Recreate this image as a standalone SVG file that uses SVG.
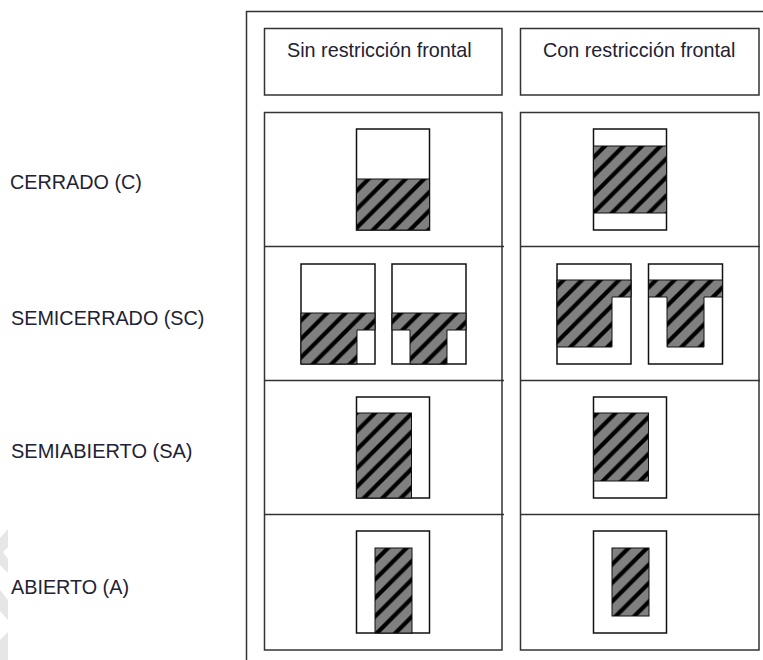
<svg xmlns="http://www.w3.org/2000/svg" width="763" height="660" viewBox="0 0 763 660">
<style>
.l{font-family:"Liberation Sans",Arial,sans-serif;font-size:19.8px;fill:#222233}
.b{fill:none;stroke:#333;stroke-width:1.5}
.o{fill:#fff;stroke:#111;stroke-width:1.5}
.h{fill:url(#hatch);stroke:#111;stroke-width:1}
</style>
<defs>
<pattern id="hatch" patternUnits="userSpaceOnUse" x="11" y="0" width="18.5" height="18.5">
<rect width="18.5" height="18.5" fill="#808080"/>
<path d="M-4.625 4.625L4.625-4.625M-4.625 23.125L23.125-4.625M13.875 23.125L23.125 13.875" stroke="#000" stroke-width="4.2" fill="none"/>
</pattern>
</defs>
<rect width="763" height="660" fill="#fff"/>
<g id="watermark" fill="#e6e6e6">
<polygon points="8,529 8,547 3,552 8,559 8,573 0,565 0,538"/>
<polygon points="0,590 8,600 8,620 0,611"/>
<polygon points="8,632 0,640 0,660 8,660"/>
</g>
<g id="frame">
<path class="b" d="M763 11.5H246.500V660"/>
</g>
<g id="header-1"><rect class="b" x="264.500" y="28.500" width="237.500" height="66.500"/><text class="l" x="287" y="57">Sin restricción frontal</text></g>
<g id="header-2"><rect class="b" x="520.500" y="28.500" width="238.500" height="66.500"/><text class="l" x="543" y="57">Con restricción frontal</text></g>
<g id="table">
<rect class="b" x="264.500" y="112.500" width="237.500" height="537.500"/>
<rect class="b" x="520.500" y="112.500" width="238.500" height="537.500"/>
<path class="b" d="M264 246.500H504M520 246.500H760M264 380.500H504M520 380.500H760M264 514.500H504M520 514.500H760"/>
</g>
<g id="label-c"><text class="l" x="10" y="189">CERRADO (C)</text></g>
<g id="label-sc"><text class="l" x="11" y="325" font-size="19.9">SEMICERRADO (SC)</text></g>
<g id="label-sa"><text class="l" x="11" y="458" style="font-size:20px">SEMIABIERTO (SA)</text></g>
<g id="label-a"><text class="l" x="11" y="594">ABIERTO (A)</text></g>
<g id="c-sin"><rect class="o" x="356.500" y="129" width="73" height="101"/><rect class="h" x="356.500" y="179" width="73" height="51"/></g>
<g id="c-con"><rect class="o" x="593.500" y="129" width="73" height="101"/><rect class="h" x="593.500" y="146" width="73" height="67"/></g>
<g id="sc-sin-1"><rect class="o" x="301" y="264" width="74" height="100"/><polygon class="h" points="301,313 375,313 375,330 357,330 357,364 301,364"/></g>
<g id="sc-sin-2"><rect class="o" x="392" y="264" width="74" height="100"/><polygon class="h" points="392,313 466,313 466,330 447,330 447,364 410,364 410,330 392,330"/></g>
<g id="sc-con-1"><rect class="o" x="557" y="264" width="74" height="100"/><polygon class="h" points="557,280 631,280 631,297 612,297 612,347 557,347"/></g>
<g id="sc-con-2"><rect class="o" x="648.500" y="264" width="74" height="100"/><polygon class="h" points="648.500,280 722.500,280 722.500,297 704,297 704,347 667,347 667,297 648.500,297"/></g>
<g id="sa-sin"><rect class="o" x="356.500" y="397" width="73" height="101"/><rect class="h" x="356.500" y="413" width="55" height="85"/></g>
<g id="sa-con"><rect class="o" x="593.500" y="397" width="73" height="101"/><rect class="h" x="593.500" y="413" width="55" height="68"/></g>
<g id="a-sin"><rect class="o" x="356.500" y="531" width="73" height="102"/><rect class="h" x="375" y="548" width="37" height="85"/></g>
<g id="a-con"><rect class="o" x="593.500" y="531" width="73" height="102"/><rect class="h" x="612" y="548" width="37" height="68"/></g>
</svg>
